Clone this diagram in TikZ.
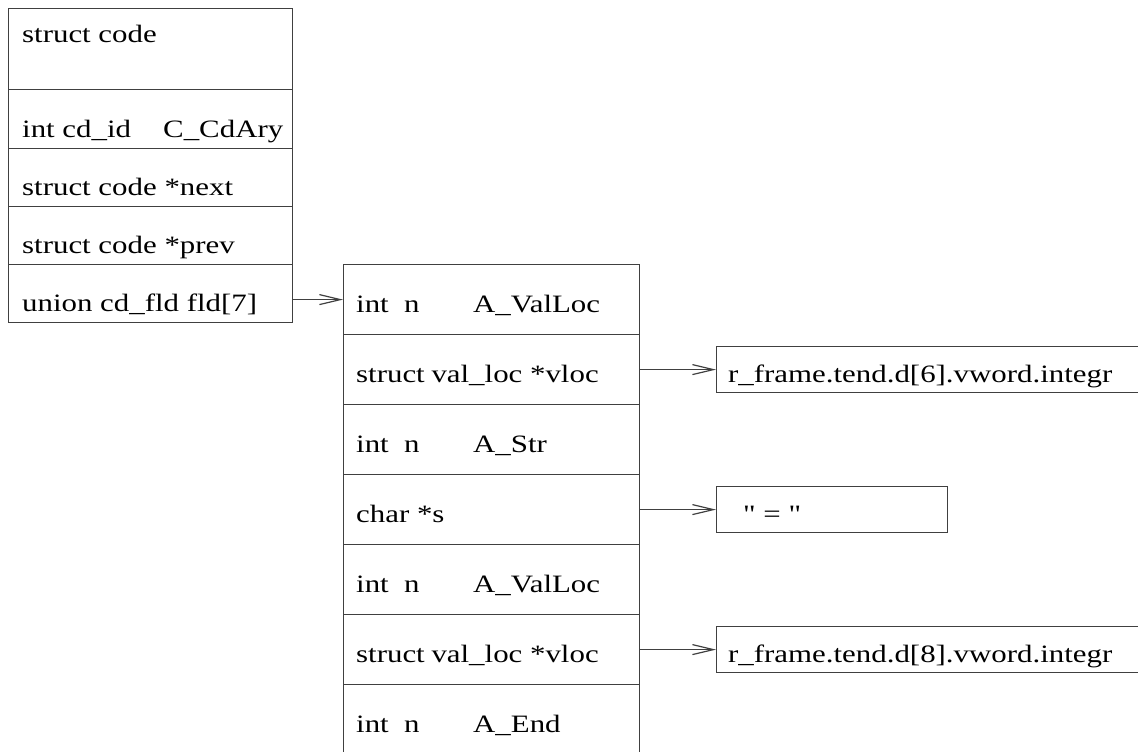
\documentclass[tikz,border=0pt]{standalone}
\usepackage{fontspec}
\setmainfont{Liberation Serif}[FakeStretch=1.235]
\newfontfamily\qfont{Liberation Serif}[FakeStretch=1.235]
\usetikzlibrary{arrows.meta}
\begin{document}
\begin{tikzpicture}[x=1pt,y=-1pt,
  cell/.style={draw=black!75, line width=1.2pt, rectangle, inner sep=0pt, anchor=north west, minimum height=#1},
  lw/.style={minimum width=284pt},
  mw/.style={minimum width=296pt},
  lbl/.style={anchor=base west, inner sep=0pt, font=\fontsize{25}{30}\selectfont},
  arr/.style={draw=black!75, line width=1.2pt, -{Straight Barb[length=21pt,width=10pt,line width=1.2pt]}}
]
\useasboundingbox (0,0) rectangle (1138,752);
% left struct
\node[cell=81pt, lw] (L0) at (8,8) {};
\node[cell=59pt, lw] (L1) at (8,89) {};
\node[cell=58pt, lw] (L2) at (8,148) {};
\node[cell=58pt, lw] (L3) at (8,206) {};
\node[cell=58pt, lw] (L4) at (8,264) {};
\node[lbl] (t0) at (22,43) {struct code};
\node[lbl] (t1a) at (22,137) {int cd\_id};
\node[lbl] (t1b) at (163,137) {C\_CdAry};
\node[lbl] (t2) at (22,195) {struct code *next};
\node[lbl] (t3) at (22,253) {struct code *prev};
\node[lbl] (t4) at (22,311) {union cd\_fld fld[7]};
% middle union array
\node[cell=70pt, mw] (M1) at (343,264) {};
\node[cell=70pt, mw] (M2) at (343,334) {};
\node[cell=70pt, mw] (M3) at (343,404) {};
\node[cell=70pt, mw] (M4) at (343,474) {};
\node[cell=70pt, mw] (M5) at (343,544) {};
\node[cell=70pt, mw] (M6) at (343,614) {};
\node[cell=70pt, mw] (M7) at (343,684) {};
\node[lbl] (m1a) at (356,312) {int\ \ n};
\node[lbl] (m1b) at (473,312) {A\_ValLoc};
\node[lbl] (m2) at (356,382) {struct\hspace{-1pt} val\_loc *vloc};
\node[lbl] (m3a) at (356,452) {int\ \ n};
\node[lbl] (m3b) at (473,452) {A\_Str};
\node[lbl] (m4) at (356,522) {char *s};
\node[lbl] (m5a) at (356,592) {int\ \ n};
\node[lbl] (m5b) at (473,592) {A\_ValLoc};
\node[lbl] (m6) at (356,662) {struct\hspace{-1pt} val\_loc *vloc};
\node[lbl] (m7a) at (356,732) {int\ \ n};
\node[lbl] (m7b) at (473,732) {A\_End};
% right targets
\node[cell=46pt, minimum width=440pt] (R1) at (716,346) {};
\node[cell=46pt, minimum width=231pt] (R2) at (716,486) {};
\node[cell=46pt, minimum width=440pt] (R3) at (716,626) {};
\node[lbl] (r1) at (728,382) {r\_frame.tend.d[6].vword.integr};
\node[lbl] (r2) at (743,522) {\qfont "\ =\ "};
\node[lbl] (r3) at (728,662) {r\_frame.tend.d[8].vword.integr};
% connectors
\draw[arr] (L4.east |- M1.west) -- (M1.west);
\draw[arr] (M2.east) -- (R1.west);
\draw[arr] (M4.east) -- (R2.west);
\draw[arr] (M6.east) -- (R3.west);
\end{tikzpicture}
\end{document}
